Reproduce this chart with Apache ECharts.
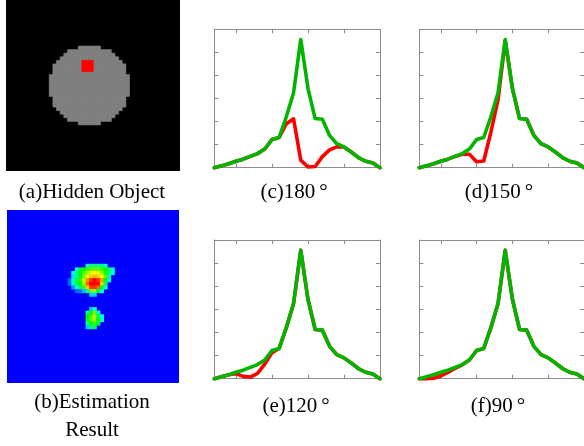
<!DOCTYPE html>
<html><head><meta charset="utf-8">
<script src="https://cdn.jsdelivr.net/npm/echarts@6/dist/echarts.min.js"></script>
<style>html,body{margin:0;padding:0;background:#fff}#c{width:584px;height:446px}</style>
</head><body><div id="c"></div>
<script>
// ---------- data ----------
const GRID_N = 48;
// (a) hidden object: gray disc given as row spans [start, end)
const discRowIdx = [13,14,15,16,17,18,19,20,21,22,23,24,25,26,27,28,29,30,31,32,33,34];
const discStart  = [20,17,16,15,14,13,13,13,12,12,12,12,12,12,13,13,13,14,15,16,17,20];
const discEnd    = [26,29,30,31,32,33,33,33,34,34,34,34,34,34,33,33,33,32,31,30,29,26];
const redRows = [17,18,19];
const redCols = [21,22,23];
// (b) estimation result: intensity patches
const blobTopCol = 17, blobTopRow = 15;
const blobTop = [
  [0,0,0,0,0,0.32,0.38,0.38,0.38,0.38,0.32,0,0],
  [0,0,0.28,0.45,0.5,0.55,0.6,0.6,0.6,0.55,0.5,0.42,0.28],
  [0,0.25,0.35,0.5,0.58,0.65,0.72,0.75,0.72,0.65,0.52,0.4,0.28],
  [0,0.22,0.35,0.5,0.62,0.72,0.8,0.82,0.8,0.75,0.6,0.35,0],
  [0.1,0.3,0.45,0.55,0.68,0.85,0.95,1.0,0.95,0.85,0.5,0.3,0],
  [0.1,0.3,0.42,0.5,0.65,0.9,1.0,1.0,1.0,0.8,0.4,0,0],
  [0,0.15,0.28,0.4,0.55,0.8,0.95,0.95,0.9,0.5,0.3,0,0],
  [0,0,0.1,0.12,0.18,0.35,0.62,0.65,0.45,0.3,0,0,0],
  [0,0,0,0,0,0,0.2,0.2,0,0,0,0,0]
];
const blobBotCol = 22, blobBotRow = 27;
const blobBot = [
  [0,0.2,0.3,0,0],
  [0.35,0.5,0.6,0.3,0],
  [0.5,0.55,0.7,0.45,0.3],
  [0.5,0.6,0.65,0.5,0.3],
  [0.35,0.5,0.55,0.45,0],
  [0.2,0.4,0.4,0,0]
];
// line panels
const xs = [2,3,4,5,6,7,8,9,10,11,12,13,14,15,16,17,18,19,20,21,22,23,24,25];
const xTicks = [5,10,15,20];
const green = [0,0.08,0.17,0.28,0.37,0.49,0.61,0.81,1.22,1.31,2.21,3.25,5.56,3.44,2.13,2.10,1.40,1.04,0.90,0.68,0.44,0.28,0.20,0];
const red180 = [0,0.08,0.17,0.28,0.37,0.49,0.61,0.81,1.22,1.31,1.91,2.12,0.33,0.03,0.05,0.48,0.77,0.90,0.90,0.68,0.44,0.28,0.20,0];
const red150 = [0,0.08,0.17,0.28,0.37,0.49,0.58,0.58,0.26,0.29,1.55,2.95,5.5,3.44,2.13,2.10,1.40,1.04,0.90,0.68,0.44,0.28,0.20,0];
const red120 = [0,0.08,0.17,0.22,0.10,0.07,0.23,0.63,1.12,1.31,2.21,3.25,5.56,3.44,2.13,2.10,1.40,1.04,0.90,0.68,0.44,0.28,0.20,0];
const red90  = [0,0.0,0.02,0.12,0.27,0.45,0.60,0.81,1.22,1.31,2.21,3.25,5.56,3.44,2.13,2.10,1.40,1.04,0.90,0.68,0.44,0.28,0.20,0];
const panelLabels = ['(a)Hidden Object','(b)Estimation','Result'];
const angleLabels = [['(c)180','°'],['(d)150','°'],['(e)120','°'],['(f)90','°']];

// ---------- build ----------
const cats = Array.from({length: GRID_N}, (_, i) => i);
const dataGray = [], dataRed = [];
discRowIdx.forEach((r, i) => {
  for (let c = discStart[i]; c < discEnd[i]; c++) {
    const isRed = redRows.includes(r) && redCols.includes(c);
    (isRed ? dataRed : dataGray).push([c, r, 1]);
  }
});
const dataB = [];
function addBlob(m, c0, r0) {
  m.forEach((row, i) => row.forEach((v, j) => { if (v > 0) dataB.push([c0 + j, r0 + i, v]); }));
}
addBlob(blobTop, blobTopCol, blobTopRow);
addBlob(blobBot, blobBotCol, blobBotRow);

const grids = [
  {left: 6, top: 0, width: 174, height: 171, show: true, backgroundColor: '#000', borderWidth: 0},
  {left: 7, top: 210, width: 172, height: 173, show: true, backgroundColor: '#0000ff', borderWidth: 0},
  {left: 214.3, top: 29.3, width: 165.7, height: 138.4},
  {left: 419.3, top: 29.3, width: 165.7, height: 138.4},
  {left: 214.3, top: 240, width: 165.7, height: 138.7},
  {left: 419.3, top: 240, width: 165.7, height: 138.7}
];
const xAxes = [], yAxes = [];
for (let g = 0; g < 2; g++) {
  xAxes.push({type: 'category', data: cats, gridIndex: g, show: false});
  yAxes.push({type: 'category', data: cats, gridIndex: g, show: false, inverse: true});
}
const boxColor = '#8c8c8c';
function boxAxis(gi, pos, isX) {
  const a = {
    type: 'value', gridIndex: gi, position: pos,
    min: isX ? 2 : 0, max: isX ? 25 : 6,
    axisLine: {show: true, onZero: false, lineStyle: {color: boxColor, width: 1}},
    axisTick: {show: true, inside: true, length: 4, lineStyle: {color: boxColor, width: 1}},
    axisLabel: {show: false}, splitLine: {show: false}
  };
  if (isX) { a.axisTick.customValues = xTicks; } else { a.interval = 1; }
  return a;
}
const reds = [red180, red150, red120, red90];
const series = [
  {type: 'heatmap', xAxisIndex: 0, yAxisIndex: 0, data: dataGray,
   itemStyle: {borderColor: '#808080', borderWidth: 0.6}},
  {type: 'heatmap', xAxisIndex: 0, yAxisIndex: 0, data: dataRed,
   itemStyle: {borderColor: '#ff0000', borderWidth: 0.6}},
  {type: 'heatmap', xAxisIndex: 1, yAxisIndex: 1, data: dataB}
];
for (let p = 0; p < 4; p++) {
  const gi = 2 + p;
  xAxes.push(boxAxis(gi, 'bottom', true));
  xAxes.push(boxAxis(gi, 'top', true));
  yAxes.push(boxAxis(gi, 'left', false));
  yAxes.push(boxAxis(gi, 'right', false));
  const xi = 2 + 2 * p, yi = 2 + 2 * p;
  const ls = (col) => ({width: 3.6, color: col, cap: 'round', join: 'round'});
  series.push({type: 'line', xAxisIndex: xi, yAxisIndex: yi, symbol: 'none', clip: false,
    data: xs.map((x, i) => [x, reds[p][i]]), lineStyle: ls('#ff0000'), itemStyle: {color: '#ff0000'}, z: 2});
  series.push({type: 'line', xAxisIndex: xi, yAxisIndex: yi, symbol: 'none', clip: false,
    data: xs.map((x, i) => [x, green[i]]), lineStyle: ls('#00b400'), itemStyle: {color: '#00b400'}, z: 3});
}
const fam = '"Liberation Serif", "Times New Roman", serif';
const font = '21px ' + fam;
const labelPos = [[92,192],[92,402],[92,430]];
const graphic = panelLabels.map((t, i) => ({
  type: 'text', x: labelPos[i][0], y: labelPos[i][1],
  style: {text: t, font: font, fill: '#000', align: 'center', verticalAlign: 'middle'}
}));
const anglePos = [[294,192],[499,192],[296,406],[498,406]];
angleLabels.forEach((t, i) => {
  graphic.push({
    type: 'text', x: anglePos[i][0], y: anglePos[i][1],
    style: {
      text: t[0] + '{d|' + t[1] + '}', font: font, fill: '#000', align: 'center', verticalAlign: 'middle',
      rich: {d: {font: font, padding: [0, 0, 0, 4], fill: '#000'}}
    }
  });
});

const chart = echarts.init(document.getElementById('c'), null, {renderer: 'canvas'});
chart.setOption({
  animation: false,
  grid: grids, xAxis: xAxes, yAxis: yAxes,
  visualMap: [
    {type: 'piecewise', show: false, seriesIndex: 0, dimension: 2, pieces: [{min: 0, max: 5, color: '#808080'}]},
    {type: 'piecewise', show: false, seriesIndex: 1, dimension: 2, pieces: [{min: 0, max: 5, color: '#ff0000'}]},
    {type: 'continuous', show: false, seriesIndex: 2, dimension: 2, min: 0, max: 1,
     inRange: {color: ['#0000ff', '#00ffff', '#00ff00', '#ffff00', '#ff0000']}}
  ],
  series: series,
  graphic: graphic
});
</script></body></html>
